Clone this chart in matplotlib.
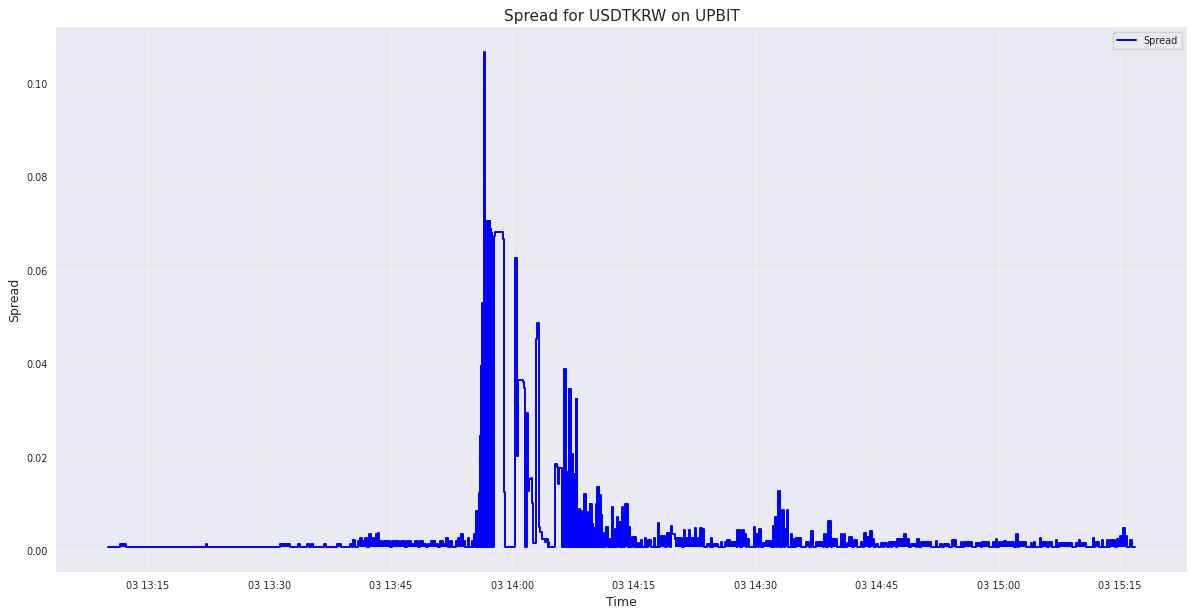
import numpy as np
import pandas as pd
from matplotlib import pyplot as plt
import matplotlib.dates as mdates

# (minutes after 03 13:00, spread)
B = 0.0008  # usual 1-tick spread

quiet = [(10.07, B), (11.55, .0015), (12.3, B), (22.14, .0015), (22.3, B), (31.38, .0015), (32.6, B),
         (33.6, .0015), (33.85, B), (34.7, .0015), (34.85, B), (35.2, .0015), (35.35, B), (36.8, .0015),
         (37.0, B), (38.3, .0015), (38.8, B), (40.0, .0015), (40.2, B), (40.37, .0024), (40.6, B),
         (40.9, .0022), (41.2, .0029), (41.5, .0022), (41.85, .0029), (42.1, B), (42.3, .0036),
         (42.6, .0029), (42.9, .0022), (43.2, .0036), (43.45, .0038), (43.6, .0022), (43.9, .0015),
         (44.2, .0022), (44.5, .0022), (44.9, B), (45.1, .0022), (45.6, .0022), (46.0, .0015),
         (46.3, .0022), (46.8, B), (47.0, .0022), (47.5, .0015), (48.0, .0022), (48.3, B), (48.6, .0022),
         (49.0, .0015), (49.3, B), (49.6, .0015), (50.0, .0022), (50.4, .0015), (50.8, B), (51.1, .0022),
         (51.4, .0015), (51.8, .0029), (52.0, B), (52.3, .0022), (52.6, B), (53.0, .0022), (53.3, .0029),
         (53.6, .0036), (53.9, .0022), (54.1, B), (54.5, .0029), (54.7, B), (55.0, .0022), (55.2, B)]

# quote flickering right before 14:00
burst = [(55.3, .0036), (55.45, B), (55.52, .0086), (55.6, B), (55.7, .0086), (55.8, B), (55.9, .0124),
         (55.95, B), (56.0, .0246), (56.05, B), (56.1, .0396), (56.15, B), (56.2, .0320), (56.26, B),
         (56.3, .0531), (56.36, B), (56.42, .0400), (56.48, B), (56.55, .1069), (56.65, B), (56.72, .0530),
         (56.78, B), (56.85, .0707), (56.9, B), (56.95, .0690), (57.0, B), (57.05, .0707), (57.1, B),
         (57.15, .0695), (57.2, B), (57.25, .0707), (57.3, B), (57.35, .0690), (57.4, B), (57.45, .0680),
         (57.5, B)]

# wide spread plateaus
plateau = [(57.73, .0674), (57.85, .0684), (58.87, .0669), (59.0, .0126), (59.08, B),
           (60.35, .0627), (60.55, .0204), (60.65, .0367), (61.3, .0362), (61.43, .0350), (61.55, B),
           (61.85, .0296), (61.95, .0129), (62.05, .0155), (62.3, .0157), (62.4, .0135), (62.45, .0103),
           (62.5, .0026), (62.6, .0017), (62.95, .0453), (63.1, .0489), (63.3, .0051), (63.45, .0041),
           (63.6, .0026), (64.0, .0019), (64.15, .0026), (64.35, B), (64.45, .0019), (64.55, B),
           (65.28, .0186), (65.45, .0180), (65.65, .0143), (65.75, .0177), (66.1, B)]

after = [(66.1, B), (66.25, .0160), (66.3, B), (66.37, .0389), (66.45, B), (66.52, .0389), (66.6, B),
         (66.65, .0160), (66.72, B), (66.8, .0170), (66.88, B), (66.97, .0346), (67.05, B), (67.1, .0346),
         (67.18, B), (67.25, .0165), (67.32, B), (67.4, .0207), (67.47, B), (67.55, .0160), (67.62, B),
         (67.7, .0165), (67.77, B), (67.84, .0325), (67.9, B), (67.96, .0325), (68.02, B), (68.1, .0075),
         (68.16, B), (68.22, .0090), (68.3, B), (68.38, .0080), (68.45, B), (68.52, .0086), (68.6, B),
         (68.7, .0060), (68.78, B), (68.87, .0122), (68.95, B), (69.02, .0122), (69.1, B), (69.2, .0083),
         (69.28, B), (69.38, .0070), (69.46, B), (69.55, .0100), (69.64, B), (69.72, .0100), (69.8, B),
         (69.9, .0058), (70.0, B), (70.1, .0050), (70.2, B), (70.3, .0100), (70.4, B), (70.5, .0137),
         (70.58, B), (70.65, .0137), (70.72, B), (70.8, .0120), (70.88, B), (71.0, .0078), (71.1, B),
         (71.28, .0039), (71.4, B), (71.55, .0051), (71.7, .0051), (71.8, B), (72.0, .0026), (72.1, B),
         (72.35, .0094), (72.45, B), (72.64, .0047), (72.75, B), (72.97, .0073), (73.05, .0062), (73.2, B),
         (73.3, .0062), (73.4, B), (73.58, .0094), (73.68, B), (73.9, .0100), (74.05, .0086), (74.2, .0100),
         (74.3, B), (74.4, .0051), (74.5, B), (74.73, .0031), (75.0, B), (75.1, .0031), (75.22, B),
         (75.47, .0018), (75.6, B), (75.92, .0023), (76.05, B), (76.33, .0029), (76.45, B), (76.7, .0023),
         (76.95, .0024), (77.1, B), (77.44, .0029), (77.6, B), (77.97, .0060), (78.1, B), (78.26, .0032),
         (78.6, .0032), (78.79, B), (79.04, .0039), (79.41, .0039), (79.5, B), (79.6, .0054), (79.7, .0036)]

tail = [(80.02, .0025), (80.15, .0028), (80.89, B), (81.13, .0045), (81.3, .0029), (81.79, .0045),
        (81.95, .0029), (82.57, .0050), (82.7, .0029), (83.1, .0050), (83.35, .0047), (83.6, B),
        (83.97, .0015), (84.33, B), (84.46, .0028), (84.6, B), (84.7, .0015), (85.32, B), (85.77, .0020),
        (85.9, B), (86.18, .0020), (86.5, .0024), (86.8, .0020), (87.66, B), (87.78, .0045), (88.03, B),
        (88.28, .0045), (88.6, .0036), (88.89, B), (89.01, .0025), (89.2, B), (89.79, .0052), (89.95, B),
        (90.09, .0036), (90.3, B), (90.49, .0047), (90.74, B), (90.99, .0018), (91.24, .0021), (91.94, B),
        (92.14, .0053), (92.3, B), (92.43, .0073), (92.6, B), (92.75, .0129), (93.08, B), (93.29, .0088),
        (93.49, B), (93.7, .0047), (93.86, .0088), (94.06, B), (94.4, .0036), (94.55, B), (94.72, .0025),
        (94.85, B), (95.01, .0028), (95.63, B), (96.24, .0020), (96.65, B), (96.86, .0043), (97.14, B),
        (97.48, .0020), (98.29, B), (98.5, .0036), (98.7, B), (98.9, .0065), (99.32, B), (99.48, .0025),
        (100.1, B), (100.55, .0036), (100.7, B), (100.96, .0036), (101.1, B), (101.33, .0018), (101.6, .0031),
        (101.95, B), (102.19, .0024), (102.56, B), (103.0, .0020), (103.3, B), (103.42, .0038),
        (103.7, .0031), (104.0, B), (104.12, .0043), (104.37, .0026), (104.66, B), (104.86, .0015),
        (105.18, B), (105.5, .0017), (105.7, B), (105.89, .0017), (106.26, B), (106.5, .0019), (106.7, B),
        (106.91, .0019), (107.33, B), (107.49, .0026), (108.1, .0026), (108.35, .0036), (108.56, .0026),
        (108.97, B), (109.18, .0015), (109.79, B), (109.99, .0026), (110.2, B), (110.41, .0019),
        (111.64, B), (112.26, .0022), (112.45, B), (112.75, .0016), (113.07, B), (113.3, .0016),
        (113.89, B), (114.3, .0023), (114.72, B), (115.33, .0019), (115.53, B), (115.7, .0019),
        (116.76, B), (117.18, .0017), (117.79, B), (117.99, .0019), (118.82, B), (119.31, .0019),
        (119.5, B), (119.64, .0026), (119.83, B), (120.05, .0020), (120.67, .0022), (120.9, .0020),
        (121.9, B), (122.18, .0036), (122.4, B), (122.51, .0020), (123.34, B), (123.95, .0017),
        (124.1, B), (124.36, .0019), (124.5, B), (125.06, .0029), (125.25, B), (125.38, .0019),
        (125.99, B), (126.2, .0020), (126.61, B), (127.03, .0023), (127.2, B), (127.44, .0018),
        (129.08, B), (129.5, .0018), (129.9, .0023), (130.1, .0018), (130.73, B), (131.63, .0029),
        (131.8, B), (131.96, .0020), (132.37, B), (132.78, .0024), (132.95, B), (133.39, .0023),
        (133.55, B), (133.81, .0023), (134.43, B), (134.63, .0027), (135.04, .0032), (135.36, .0050),
        (135.66, .0032), (135.85, B), (136.27, .0024), (136.47, B), (136.89, B)]

start = pd.Timestamp("2024-06-03 13:00")


def to_series(pts):
    t = start + pd.to_timedelta([p[0] for p in pts], unit="m")
    return t, np.array([p[1] for p in pts])


plt.style.use("seaborn-v0_8-darkgrid")
plt.rcParams["font.family"] = ["DejaVu Sans"]
fig, ax = plt.subplots(figsize=(12, 6.1), dpi=100)
fig.subplots_adjust(left=0.047, right=0.989, top=0.956, bottom=0.062)

times, spread = to_series(quiet + burst + plateau + after[1:] + tail)
ax.plot(times, spread, color="blue", linewidth=1.4, drawstyle="steps-post", label="Spread")

# flicker periods look solid at this scale
for seg in (quiet, burst, after, tail):
    t, v = to_series(seg)
    ax.fill_between(t, B, v, step="post", color="blue", linewidth=0)

ax.set_title("Spread for USDTKRW on UPBIT", fontsize=11, pad=4)
ax.set_xlabel("Time", fontsize=9, labelpad=4)
ax.set_ylabel("Spread", fontsize=9)
ax.xaxis.set_major_locator(mdates.MinuteLocator(byminute=[0, 15, 30, 45]))
ax.xaxis.set_major_formatter(mdates.DateFormatter("%d %H:%M"))
ax.tick_params(labelsize=7, pad=6)
ax.grid(True, alpha=0.3)
ax.legend(loc="upper right", fontsize=7, frameon=True)

plt.savefig("out.png")
